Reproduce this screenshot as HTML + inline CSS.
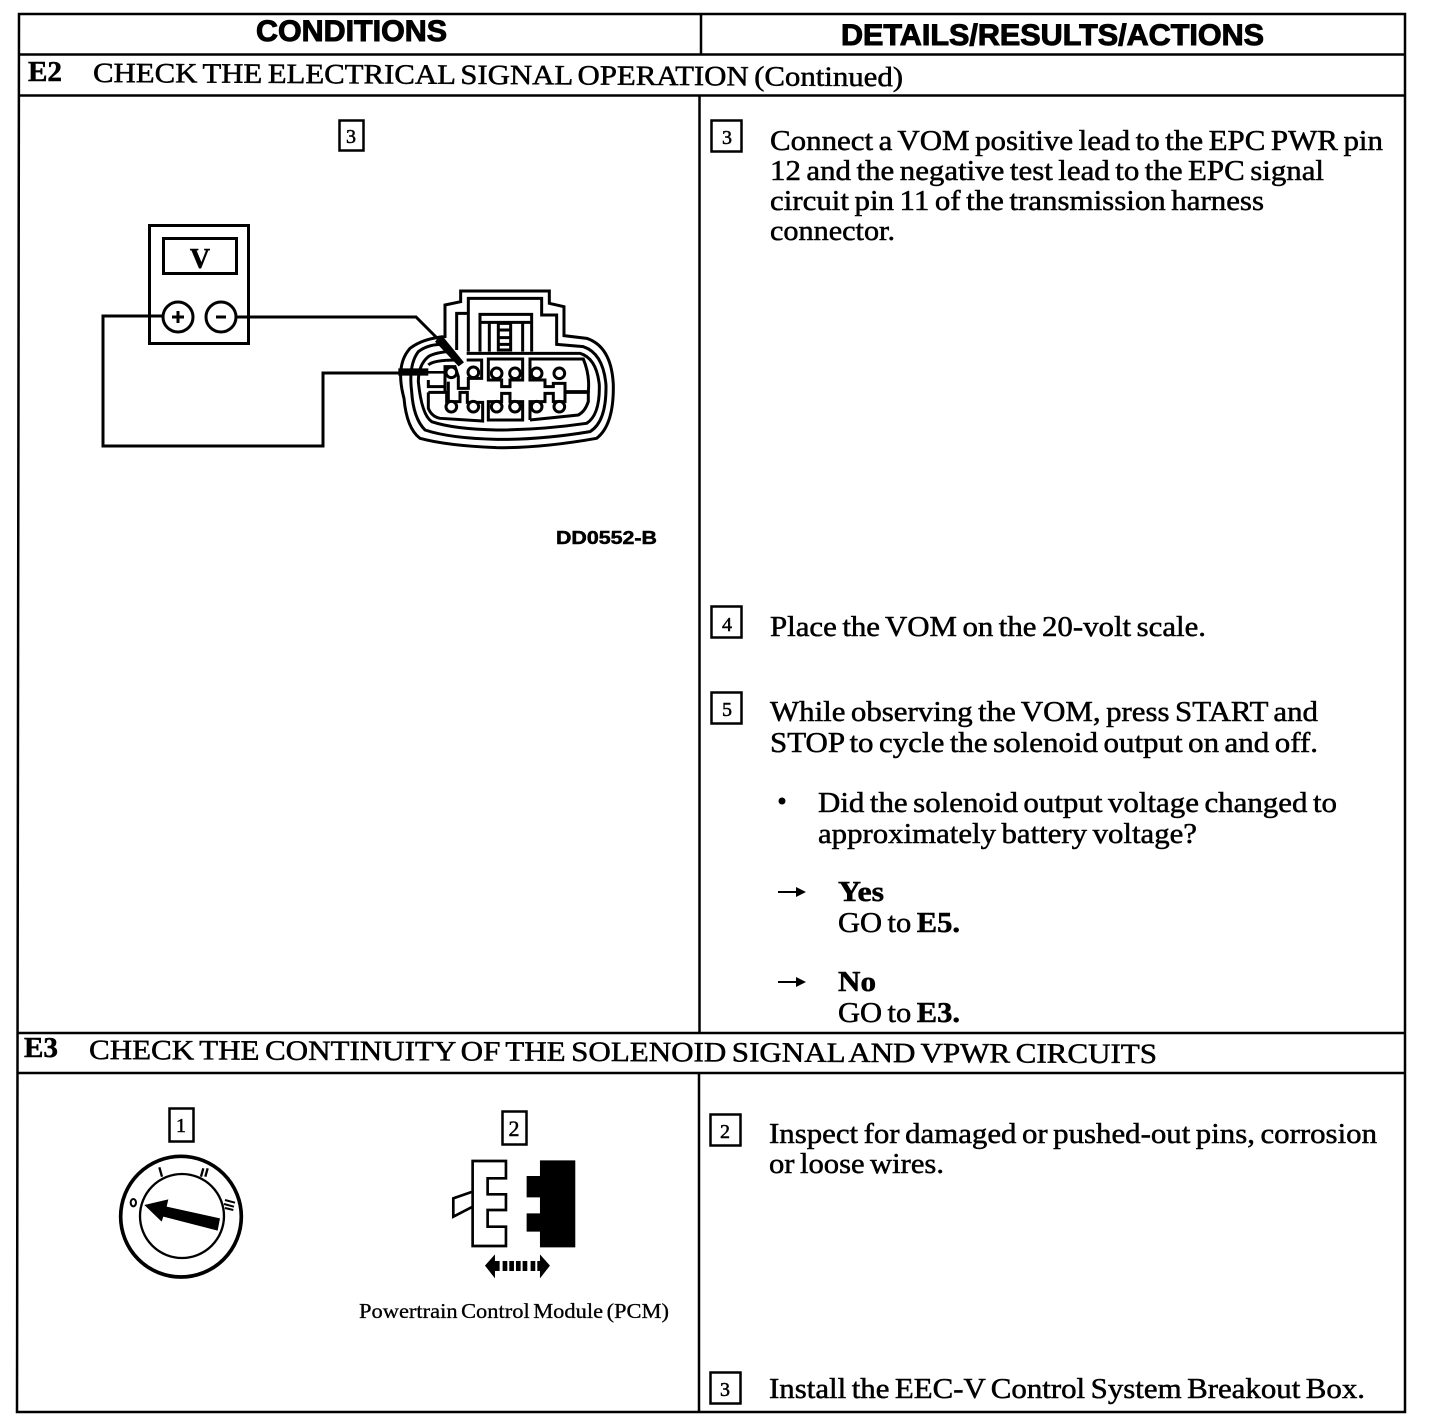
<!DOCTYPE html>
<html><head><meta charset="utf-8"><style>
html,body{margin:0;padding:0;background:#fff}
svg{display:block}
text{font-family:"Liberation Serif",serif;font-size:28px;fill:#000;stroke:#000;stroke-width:.5px;word-spacing:-2px}
.h{font-family:"Liberation Sans",sans-serif;font-weight:700;font-size:30px;stroke-width:1px;word-spacing:0}
.b{font-weight:700}
.n{font-size:20px;text-anchor:middle}
.l{fill:none;stroke:#000}
.p{fill:#fff;stroke:#000;stroke-width:9}
</style></head><body>
<svg width="1440" height="1422" viewBox="0 0 1440 1422" xmlns="http://www.w3.org/2000/svg">
<!-- grid -->
<g stroke-width="2.5">
<path class="l" d="M19 14H1405V1412H17L19 14Z"/>
<path class="l" d="M19 54.500H1405M19 95.500H1405M17 1033H1405M17 1073H1405"/>
<path class="l" d="M701 14V54M699.500 95V1033M699 1073V1412"/>
</g>
<text class="h" x="256" y="41" textLength="191" lengthAdjust="spacingAndGlyphs">CONDITIONS</text>
<text class="h" x="841" y="45" textLength="423" lengthAdjust="spacingAndGlyphs">DETAILS/RESULTS/ACTIONS</text>
<text class="b" x="28" y="81" textLength="34" lengthAdjust="spacingAndGlyphs">E2</text>
<text x="93" y="82" transform="rotate(.3 93 82)" textLength="810" lengthAdjust="spacingAndGlyphs">CHECK THE ELECTRICAL SIGNAL OPERATION (Continued)</text>
<text class="b" x="24" y="1057" textLength="34" lengthAdjust="spacingAndGlyphs">E3</text>
<text x="89" y="1059" transform="rotate(.22 89 1059)" textLength="1068" lengthAdjust="spacingAndGlyphs">CHECK THE CONTINUITY OF THE SOLENOID SIGNAL AND VPWR CIRCUITS</text>
<!-- number boxes -->
<g stroke-width="2.500">
<rect class="l" x="339.500" y="120.500" width="24" height="30"/>
<rect class="l" x="711.500" y="120.500" width="30" height="31"/>
<rect class="l" x="711.500" y="606.500" width="30" height="31"/>
<rect class="l" x="711.500" y="692.500" width="30" height="31"/>
<rect class="l" x="169.500" y="1108.500" width="24" height="33"/>
<rect class="l" x="502.500" y="1111.500" width="24" height="33"/>
<rect class="l" x="710.500" y="1114.500" width="30" height="31"/>
<rect class="l" x="710.500" y="1372.500" width="30" height="31"/>
</g>
<text class="n" x="351" y="143">3</text>
<text class="n" x="727" y="144">3</text>
<text class="n" x="727" y="631">4</text>
<text class="n" x="727" y="716">5</text>
<text class="n" x="181" y="1132">1</text>
<text class="n" x="514" y="1136" style="font-size:22px">2</text>
<text class="n" x="725" y="1138">2</text>
<text class="n" x="725" y="1396">3</text>
<!-- right text -->
<text x="770" y="150" textLength="613" lengthAdjust="spacingAndGlyphs">Connect a VOM positive lead to the EPC PWR pin</text>
<text x="770" y="180" textLength="554" lengthAdjust="spacingAndGlyphs">12 and the negative test lead to the EPC signal</text>
<text x="770" y="210" textLength="494" lengthAdjust="spacingAndGlyphs">circuit pin 11 of the transmission harness</text>
<text x="770" y="240" textLength="125" lengthAdjust="spacingAndGlyphs">connector.</text>
<text x="770" y="636" textLength="436" lengthAdjust="spacingAndGlyphs">Place the VOM on the 20-volt scale.</text>
<text x="770" y="721" textLength="548" lengthAdjust="spacingAndGlyphs">While observing the VOM, press START and</text>
<text x="770" y="752" textLength="548" lengthAdjust="spacingAndGlyphs">STOP to cycle the solenoid output on and off.</text>
<circle cx="782" cy="801" r="3.500"/>
<text x="818" y="812" textLength="519" lengthAdjust="spacingAndGlyphs">Did the solenoid output voltage changed to</text>
<text x="818" y="843" textLength="379" lengthAdjust="spacingAndGlyphs">approximately battery voltage?</text>
<path d="M778 892H797" stroke="#000" stroke-width="2"/><path d="M806 892L796 887V897Z"/>
<text class="b" x="838" y="901" textLength="46" lengthAdjust="spacingAndGlyphs">Yes</text>
<text x="838" y="932" textLength="122" lengthAdjust="spacingAndGlyphs">GO to <tspan class="b">E5.</tspan></text>
<path d="M778 982H797" stroke="#000" stroke-width="2"/><path d="M806 982L796 977V987Z"/>
<text class="b" x="838" y="991" textLength="38" lengthAdjust="spacingAndGlyphs">No</text>
<text x="838" y="1022" textLength="122" lengthAdjust="spacingAndGlyphs">GO to <tspan class="b">E3.</tspan></text>
<text x="769" y="1143" textLength="608" lengthAdjust="spacingAndGlyphs">Inspect for damaged or pushed-out pins, corrosion</text>
<text x="769" y="1173" textLength="175" lengthAdjust="spacingAndGlyphs">or loose wires.</text>
<text x="769" y="1398" textLength="596" lengthAdjust="spacingAndGlyphs">Install the EEC-V Control System Breakout Box.</text>
<text x="556" y="544" textLength="101" lengthAdjust="spacingAndGlyphs" style="font-family:'Liberation Sans',sans-serif;font-weight:700;font-size:18px">DD0552-B</text>
<text x="359" y="1318" textLength="310" lengthAdjust="spacingAndGlyphs" style="font-size:21px;stroke-width:.3px">Powertrain Control Module (PCM)</text>
<!-- meter -->
<rect class="l" stroke-width="3" x="149.500" y="225.500" width="99" height="118"/>
<rect class="l" stroke-width="3" x="163.500" y="238.500" width="73" height="35"/>
<text x="200" y="268" text-anchor="middle" class="b" style="font-size:28px">V</text>
<path class="l" stroke-width="3" d="M163 316H103V446H323V373H400M236 317H416L440 341"/>
<circle stroke="#000" stroke-width="3" cx="178" cy="317" r="15" fill="#fff"/>
<circle stroke="#000" stroke-width="3" cx="221" cy="317" r="15" fill="#fff"/>
<path d="M172 317H184M178 311V323M216 317H226" stroke="#000" stroke-width="3"/>
<!-- connector -->
<g transform="translate(390,285) scale(.3333)">
<g stroke-width="9">
<path class="l" d="M212 18H478V55L522 65V152L590 160Q665 185 670 300Q672 420 620 460Q450 490 320 488Q170 482 90 460Q50 430 42 340Q15 240 60 190Q100 160 165 155V60L212 50Z"/>
<path class="l" d="M235 200V40H455V90H500V178L580 185Q640 205 648 300Q650 410 600 440Q450 465 320 463Q180 460 105 435Q70 400 65 320Q55 240 85 200Q110 180 150 178M235 85H200V195"/>
<path class="l" d="M230 205H570Q620 220 628 300Q630 390 590 415Q450 435 320 435Q190 432 125 410Q95 390 85 290Q85 240 115 215Q130 205 170 200"/>
<path class="l" d="M115 240Q130 225 200 225"/>
<path class="l" d="M270 200V88H425V200M272 112H422M298 112V200M398 112V200M325 115H362V195H325ZM325 135H362M325 158H362M325 178H362"/>
<path class="l" d="M230 225H275V280H235V310H205V275L195 245H165V305H115V285M175 290V350M165 305V322"/>
<path class="l" d="M115 322V370Q125 395 150 400L278 408V352H232V322H210V350H170V322H115"/>
<path class="l" d="M295 222H398V285H360V305H335V285H295Z"/>
<path class="l" d="M295 405H398V350H360V325H335V350H295Z"/>
<path class="l" d="M420 222H580Q600 270 595 320H525V295H490V305H465V285H420Z"/>
<path class="l" d="M420 405V350H465V325H490V350H525V322H595V350Q585 380 565 390L420 405"/>
</g>
<g>
<circle class="p" cx="184" cy="262" r="16"/><circle class="p" cx="250" cy="262" r="16"/>
<circle class="p" cx="320" cy="265" r="16"/><circle class="p" cx="375" cy="265" r="16"/>
<circle class="p" cx="440" cy="265" r="16"/><circle class="p" cx="508" cy="265" r="16"/>
<circle class="p" cx="184" cy="365" r="16"/><circle class="p" cx="250" cy="365" r="16"/>
<circle class="p" cx="320" cy="365" r="16"/><circle class="p" cx="375" cy="365" r="16"/>
<circle class="p" cx="440" cy="365" r="16"/><circle class="p" cx="508" cy="365" r="16"/>
</g>
<path d="M135 170L155 150L222 232L206 244Z"/>
<path d="M25 250H115V272H25Z"/>
<path d="M100 262H165" stroke="#000" stroke-width="8"/>
</g>
<!-- key + PCM -->
<g transform="translate(100,1100) scale(.3333)">
<circle class="l" stroke-width="11" cx="243" cy="350" r="181"/>
<circle class="l" stroke-width="7" cx="246" cy="348" r="126"/>
<path d="M133 315L205 298L200 320L360 355L353 392L190 350L185 365Z"/>
<path d="M178 202L186 230M303 230L310 205M316 230L323 205" stroke="#000" stroke-width="7"/>
<path d="M375 300L405 308M372 312L402 320M375 324L400 330" stroke="#000" stroke-width="6"/>
<ellipse class="l" stroke-width="6" cx="100" cy="308" rx="8" ry="11"/>
<path class="l" stroke-width="8" d="M1118 183H1218V235H1163V283H1218V330H1163V380H1218V438H1118Z"/>
<path class="l" stroke-width="8" d="M1118 275L1060 295V350L1118 320"/>
<path d="M1320 181H1426V442H1320V395H1280V340H1320V292H1280V228H1320Z"/>
<path d="M1155 497L1185 463V535Z"/>
<path d="M1350 497L1320 463V535Z"/>
<rect x="1185" y="483" width="14" height="30"/><rect x="1208" y="483" width="14" height="30"/><rect x="1228" y="483" width="14" height="30"/><rect x="1248" y="483" width="14" height="30"/><rect x="1268" y="483" width="14" height="30"/><rect x="1292" y="483" width="14" height="30"/><rect x="1312" y="483" width="10" height="30"/>
</g>
</svg>
</body></html>
